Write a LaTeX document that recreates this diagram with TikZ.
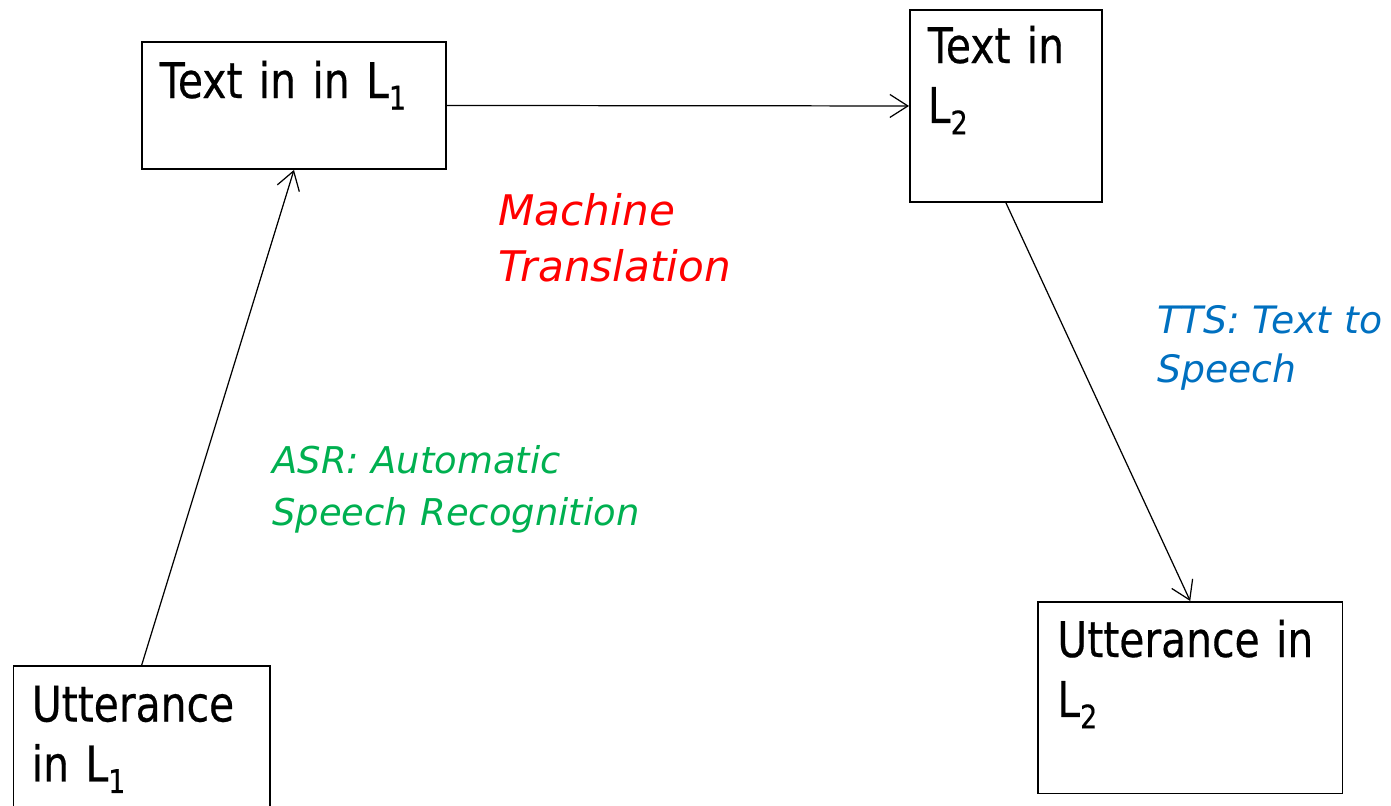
\documentclass[tikz,border=0pt]{standalone}
\usepackage{fontspec}
\usepackage{xcolor}
\usepackage{tikz}
\setmainfont{DejaVu Sans}
\newfontfamily\boxfont{DejaVu Sans}[FakeStretch=0.83,FakeBold=0.4]
\usetikzlibrary{positioning,calc,arrows.meta}

\definecolor{mtred}{RGB}{255,0,0}
\definecolor{asrgreen}{RGB}{0,176,80}
\definecolor{ttsblue}{RGB}{0,112,192}

% lowered small index after L
\newcommand{\subidx}[1]{\raisebox{-0.23cm}{\fontsize{18.5}{18.5}\selectfont #1}}

\begin{document}
\begin{tikzpicture}[
        txtbox/.style={draw, line width=1.1pt, inner sep=0pt, anchor=north west},
        boxtext/.style={anchor=base west, inner sep=0pt, align=left, text width=#1,
            font=\boxfont\fontsize{28}{34.1}\selectfont},
        steplabel/.style={anchor=base west, inner sep=0pt, align=left, text width=9cm},
        flow/.style={-{Straight Barb[length=3.6mm,width=4.6mm]}, line width=0.7pt}
    ]
        \useasboundingbox (0,0) rectangle (27.82,-16.1);

        % Boxes
        \node[txtbox, minimum width=6.08cm, minimum height=2.54cm] (srcText) at (2.82,-0.82) {};
        \node[txtbox, minimum width=3.84cm, minimum height=3.84cm] (tgtText) at (18.18,-0.18) {};
        \node[txtbox, minimum width=5.13cm, minimum height=3.6cm] (srcUtt) at (0.25,-13.3) {};
        \node[txtbox, minimum width=6.09cm, minimum height=3.83cm] (tgtUtt) at (20.74,-12.02) {};

        % Box texts
        \node[boxtext=5.5cm] (srcTextLbl) at ($(srcText.north west)+(0.37,-1.14)$) {Text in in L\subidx{1}};
        \node[boxtext=3.4cm] (tgtTextLbl) at ($(tgtText.north west)+(0.37,-1.08)$) {Text in\\L\subidx{2}};
        \node[boxtext=4.8cm] (srcUttLbl) at ($(srcUtt.north west)+(0.38,-1.13)$) {Utterance\\in L\subidx{1}};
        \node[boxtext=5.7cm] (tgtUttLbl) at ($(tgtUtt.north west)+(0.40,-1.12)$) {Utterance in\\L\subidx{2}};

        % Step labels
        \node[steplabel, text=mtred, font=\itshape\fontsize{24}{32.4}\selectfont] (mtLabel) at (9.96,-4.5) {Machine\\Translation};
        \node[steplabel, text=ttsblue, font=\itshape\fontsize{21.5}{27.9}\selectfont] (ttsLabel) at (23.14,-6.66) {TTS: Text to\\Speech};
        \node[steplabel, text=asrgreen, font=\itshape\fontsize{21}{29.6}\selectfont] (asrLabel) at (5.44,-9.46) {ASR: Automatic\\Speech Recognition};

        % Connectors
        \draw[flow] (srcText.east) -- (tgtText.west);
        \draw[flow] (srcUtt.north) -- (srcText.south);
        \draw[flow] (tgtText.south) -- (tgtUtt.north);
    \end{tikzpicture}
\end{document}
